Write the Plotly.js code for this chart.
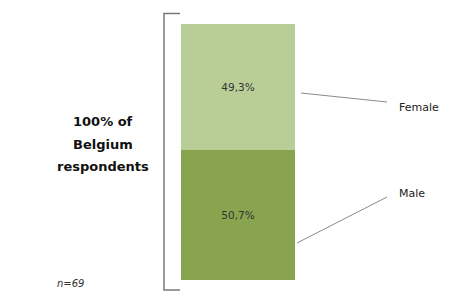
<!DOCTYPE html>
<html>
<head>
<meta charset="utf-8">
<script src="https://cdn.plot.ly/plotly-3.0.1.min.js"></script>
<style>html,body{margin:0;padding:0;background:#fff;}#chart{width:461px;height:296px;}</style>
</head>
<body>
<div id="chart"></div>
<script>
// Data
var categories = ['Belgium'];
var seriesNames = ['Male', 'Female'];
var maleValues = [50.7];
var femaleValues = [49.3];
var sampleLabel = 'n=69';
var groupLabel = ['100% of', 'Belgium', 'respondents'];

function fmt(v) { return v.toFixed(1).replace('.', ',') + '%'; }

// Plot area geometry (pixels)
var W = 461, H = 296;
var L = 181, R = 295, T = 24, B = 280;
function px(x) { return (x - L) / (R - L); }
function py(y) { return (B - y) / (B - T); }

var textFont = {family: 'DejaVu Sans, sans-serif', size: 10.5, color: '#333333'};

var traces = [
  {
    type: 'bar', name: seriesNames[0], x: categories, y: maleValues,
    marker: {color: '#89a44f', line: {width: 0}},
    text: maleValues.map(fmt), textposition: 'inside', insidetextanchor: 'middle',
    textfont: textFont, hoverinfo: 'none'
  },
  {
    type: 'bar', name: seriesNames[1], x: categories, y: femaleValues,
    marker: {color: '#b9ce97', line: {width: 0}},
    text: femaleValues.map(fmt), textposition: 'inside', insidetextanchor: 'middle',
    textfont: textFont, hoverinfo: 'none'
  }
];

var lineStyle = {color: '#8a8a8a', width: 1};
var shapes = [
  // bracket
  {type: 'path', xref: 'paper', yref: 'paper',
   path: 'M ' + px(180) + ' ' + py(13.5) + ' L ' + px(164) + ' ' + py(13.5) +
         ' L ' + px(164) + ' ' + py(290) + ' L ' + px(180) + ' ' + py(290),
   line: {color: '#7a7a7a', width: 1.5}},
  // leader lines
  {type: 'line', xref: 'paper', yref: 'paper', x0: px(301), y0: py(93), x1: px(387), y1: py(102), line: lineStyle},
  {type: 'line', xref: 'paper', yref: 'paper', x0: px(297), y0: py(243), x1: px(387), y1: py(197), line: lineStyle}
];

var annFont = {family: 'DejaVu Sans, sans-serif', size: 11, color: '#222222'};
var boldFont = {family: 'DejaVu Sans, sans-serif', size: 13, color: '#111111', weight: 'bold'};
var annotations = [
  {xref: 'paper', yref: 'paper', x: px(397), y: py(107), xanchor: 'left', yanchor: 'middle',
   text: seriesNames[1], showarrow: false, font: annFont},
  {xref: 'paper', yref: 'paper', x: px(397), y: py(193), xanchor: 'left', yanchor: 'middle',
   text: seriesNames[0], showarrow: false, font: annFont},
  {xref: 'paper', yref: 'paper', x: px(55), y: py(283), xanchor: 'left', yanchor: 'middle',
   text: '<i>' + sampleLabel + '</i>', showarrow: false,
   font: {family: 'DejaVu Sans, sans-serif', size: 10, color: '#333333'}}
];
var labelY = [121, 144, 166];
groupLabel.forEach(function (t, i) {
  annotations.push({xref: 'paper', yref: 'paper', x: px(103), y: py(labelY[i]),
    xanchor: 'center', yanchor: 'middle', text: '<b>' + t + '</b>', showarrow: false, font: boldFont});
});

var layout = {
  width: W, height: H,
  margin: {l: L, r: W - R, t: T, b: H - B, pad: 0},
  paper_bgcolor: '#ffffff', plot_bgcolor: '#ffffff',
  barmode: 'stack', bargap: 0, showlegend: false,
  xaxis: {visible: false, fixedrange: true},
  yaxis: {visible: false, range: [0, 100], fixedrange: true},
  shapes: shapes, annotations: annotations
};

Plotly.newPlot('chart', traces, layout, {displayModeBar: false, staticPlot: true});
</script>
</body>
</html>
